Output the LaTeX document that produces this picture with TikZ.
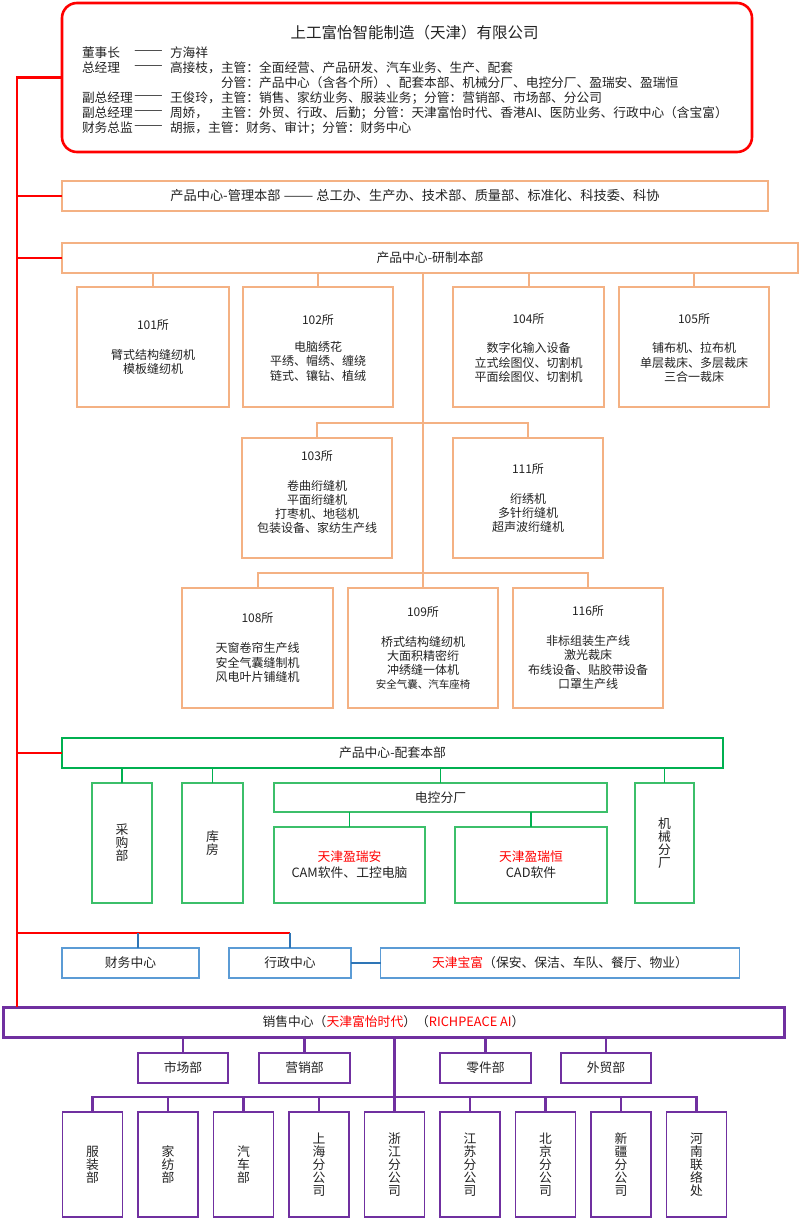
\documentclass[tikz,border=0pt]{standalone}
\usepackage{graphicx}
\usepackage{fontspec}
\setmainfont{Noto Sans CJK SC}
\usetikzlibrary{calc}
\definecolor{cRed}{HTML}{FF0000}
\definecolor{cText}{HTML}{222222}
\definecolor{cOrange}{HTML}{F4B183}
\definecolor{cGreen}{HTML}{00B050}
\definecolor{cGreenL}{HTML}{3CBF6A}
\definecolor{cBlue}{HTML}{5B9BD5}
\definecolor{cBlueD}{HTML}{2E75B6}
\definecolor{cPurple}{HTML}{7030A0}
\newcommand{\longdash}{\scalebox{1.35}[1]{——}}
\begin{document}
\begin{tikzpicture}[x=1pt,y=-1pt,
  every node/.style={inner sep=0pt, outer sep=0pt, text=cText},
  txt/.style={font=\fontsize{12}{14.2}\selectfont, align=center},
  btxt/.style={font=\fontsize{12.8}{14.5}\selectfont, align=center},
  small/.style={font=\fontsize{10.5}{12}\selectfont, align=center},
  lbl/.style={font=\fontsize{12.7}{14}\selectfont, anchor=west},
  vtxt/.style={font=\fontsize{12.8}{13}\selectfont, align=center},
  ttl/.style={font=\fontsize{15.5}{18}\selectfont},
  topbox/.style={draw=cRed, line width=2.6pt, rounded corners=15pt},
  redline/.style={draw=cRed, line width=2.6pt},
  obig/.style={draw=cOrange, line width=2.4pt, btxt},
  osmall/.style={draw=cOrange, line width=1.5pt},
  oline/.style={draw=cOrange, line width=2pt},
  gbig/.style={draw=cGreen, line width=2.4pt, btxt},
  gsmall/.style={draw=cGreenL, line width=1.6pt, btxt},
  gline/.style={draw=cGreen, line width=1.8pt},
  bbox/.style={draw=cBlue, line width=1.8pt, btxt},
  bline/.style={draw=cBlueD, line width=1.6pt},
  pbig/.style={draw=cPurple, line width=3pt, btxt},
  psmall/.style={draw=cPurple, line width=1.8pt, btxt},
  pv/.style={draw=cPurple, line width=1.8pt, vtxt, minimum width=60pt, minimum height=105pt},
  pline/.style={draw=cPurple, line width=2.2pt},
]
\useasboundingbox (0,0) rectangle (800,1220);

% ---------- top box ----------
\node[topbox, minimum width=690pt, minimum height=149pt] (top) at (407,77.5) {};
\node[ttl] (title) at (414.5,33) {上工富怡智能制造（天津）有限公司};
\node[lbl] (l1a) at (82,53) {董事长};
\node[lbl] (l1b) at (134,53) {\longdash};
\node[lbl] (l1c) at (170,53) {方海祥};
\node[lbl] (l2a) at (82,68) {总经理};
\node[lbl] (l2b) at (134,68) {\longdash};
\node[lbl] (l2c) at (170,68) {高接枝，};
\node[lbl] (l2d) at (221,68) {主管：全面经营、产品研发、汽车业务、生产、配套};
\node[lbl] (l3d) at (221,83) {分管：产品中心（含各个所）、配套本部、机械分厂、电控分厂、盈瑞安、盈瑞恒};
\node[lbl] (l4a) at (82,98) {副总经理};
\node[lbl] (l4b) at (134,98) {\longdash};
\node[lbl] (l4c) at (170,98) {王俊玲，};
\node[lbl] (l4d) at (221,98) {主管：销售、家纺业务、服装业务；分管：营销部、市场部、分公司};
\node[lbl] (l5a) at (82,113) {副总经理};
\node[lbl] (l5b) at (134,113) {\longdash};
\node[lbl] (l5c) at (170,113) {周娇，};
\node[lbl] (l5d) at (221,113) {主管：外贸、行政、后勤；分管：天津富怡时代、香港AI、医防业务、行政中心（含宝富）};
\node[lbl] (l6a) at (82,128) {财务总监};
\node[lbl] (l6b) at (134,128) {\longdash};
\node[lbl] (l6c) at (170,128) {胡振，主管：财务、审计；分管：财务中心};

% ---------- management / research ----------
\node[obig, font=\fontsize{13.2}{15}\selectfont, minimum width=706pt, minimum height=30pt] (mgmt) at (415,196) {产品中心-管理本部 \longdash{} 总工办、生产办、技术部、质量部、标准化、科技委、科协};
\node[obig, minimum width=736pt, minimum height=30pt] (research) at (430,258) {产品中心-研制本部};

\node[osmall, minimum width=152pt, minimum height=120pt] (r101) at (153,347) {};
\node[osmall, minimum width=150pt, minimum height=120pt] (r102) at (318,347) {};
\node[osmall, minimum width=151pt, minimum height=120pt] (r104) at (528.5,347) {};
\node[osmall, minimum width=150pt, minimum height=120pt] (r105) at (694,347) {};
\node[osmall, minimum width=150pt, minimum height=120pt] (r103) at (317,498) {};
\node[osmall, minimum width=150pt, minimum height=120pt] (r111) at (528,498) {};
\node[osmall, minimum width=151pt, minimum height=120pt] (r108) at (257.5,648) {};
\node[osmall, minimum width=150pt, minimum height=120pt] (r109) at (423,648) {};
\node[osmall, minimum width=150pt, minimum height=120pt] (r116) at (588,648) {};

\node[txt] (t101) at (153,325) {101所};
\node[txt] (d101) at (153,362) {臂式结构缝纫机\\模板缝纫机};
\node[txt] (t102) at (318,320) {102所};
\node[txt] (d102) at (318,361.5) {电脑绣花\\平绣、帽绣、缠绕\\链式、镶钻、植绒};
\node[txt] (t104) at (528.5,319) {104所};
\node[txt] (d104) at (528.5,362.5) {数字化输入设备\\立式绘图仪、切割机\\平面绘图仪、切割机};
\node[txt] (t105) at (694,319) {105所};
\node[txt] (d105) at (694,362.5) {铺布机、拉布机\\单层裁床、多层裁床\\三合一裁床};
\node[txt] (t103) at (317,456) {103所};
\node[txt] (d103) at (317,507) {卷曲绗缝机\\平面绗缝机\\打枣机、地毯机\\包装设备、家纺生产线};
\node[txt] (t111) at (528,469) {111所};
\node[txt] (d111) at (528,513) {绗绣机\\多针绗缝机\\超声波绗缝机};
\node[txt] (t108) at (257.5,618) {108所};
\node[txt] (d108) at (257.5,662.5) {天窗卷帘生产线\\安全气囊缝制机\\风电叶片铺缝机};
\node[txt] (t109) at (423,612) {109所};
\node[txt] (d109) at (423,656) {桥式结构缝纫机\\大面积精密绗\\冲绣缝一体机};
\node[small] (e109) at (423,684) {安全气囊、汽车座椅};
\node[txt] (t116) at (588,611) {116所};
\node[txt] (d116) at (588,662.5) {非标组装生产线\\激光裁床\\布线设备、贴胶带设备\\口罩生产线};

% ---------- peitao ----------
\node[gbig, minimum width=661pt, minimum height=30pt] (peitao) at (392.5,753) {产品中心-配套本部};
\node[gsmall, vtxt, minimum width=60pt, minimum height=120pt] (cg) at (122,843) {采\\购\\部};
\node[gsmall, vtxt, minimum width=61pt, minimum height=120pt] (kf) at (212.5,843) {库\\房};
\node[gsmall, minimum width=333pt, minimum height=29pt] (dk) at (440.5,797.5) {电控分厂};
\node[gsmall, minimum width=151pt, minimum height=76pt] (yra) at (349.5,865) {};
\node[gsmall, minimum width=152pt, minimum height=76pt] (yrh) at (531,865) {};
\node[gsmall, vtxt, minimum width=59pt, minimum height=120pt] (jx) at (664.5,843) {机\\械\\分\\厂};
\node[btxt, text=cRed] (yra1) at (349.5,857) {天津盈瑞安};
\node[btxt] (yra2) at (349.5,873) {CAM软件、工控电脑};
\node[btxt, text=cRed] (yrh1) at (531,857) {天津盈瑞恒};
\node[btxt] (yrh2) at (531,873) {CAD软件};

% ---------- finance / admin ----------
\node[bbox, minimum width=137pt, minimum height=30pt] (cw) at (130.5,963) {财务中心};
\node[bbox, minimum width=122pt, minimum height=30pt] (xz) at (290,963) {行政中心};
\node[bbox, minimum width=359pt, minimum height=30pt] (bf) at (560,963) {\textcolor{cRed}{天津宝富}（保安、保洁、车队、餐厅、物业）};

% ---------- sales ----------
\node[pbig, minimum width=781pt, minimum height=30pt] (sales) at (393.5,1022) {销售中心（\textcolor{cRed}{天津富怡时代}）（\textcolor{cRed}{RICHPEACE AI}）};
\node[psmall, minimum width=90pt, minimum height=30pt] (sc) at (183,1068) {市场部};
\node[psmall, minimum width=91pt, minimum height=30pt] (yx) at (304.5,1068) {营销部};
\node[psmall, minimum width=91pt, minimum height=30pt] (lj) at (485.5,1068) {零件部};
\node[psmall, minimum width=90pt, minimum height=30pt] (wm) at (606,1068) {外贸部};
\node[pv] (s1) at (92.5,1164.5) {服\\装\\部};
\node[pv] (s2) at (168,1164.5) {家\\纺\\部};
\node[pv] (s3) at (243.5,1164.5) {汽\\车\\部};
\node[pv] (s4) at (319,1164.5) {上\\海\\分\\公\\司};
\node[pv] (s5) at (394.5,1164.5) {浙\\江\\分\\公\\司};
\node[pv] (s6) at (470,1164.5) {江\\苏\\分\\公\\司};
\node[pv] (s7) at (545.5,1164.5) {北\\京\\分\\公\\司};
\node[pv] (s8) at (621,1164.5) {新\\疆\\分\\公\\司};
\node[pv] (s9) at (696.5,1164.5) {河\\南\\联\\络\\处};

% ---------- red trunk ----------
\coordinate (rt) at (17,77.5);
\draw[redline] (top.west) -- (rt) -- (rt |- sales.north);
\draw[redline] (mgmt.west) -- (mgmt.west -| rt);
\draw[redline] (research.west) -- (research.west -| rt);
\draw[redline] (peitao.west) -- (peitao.west -| rt);
\coordinate (fj) at (290,933);
\coordinate (fj1) at (138,933);
\draw[redline] (rt |- fj) -- (fj);
\draw[bline] (fj1) -- (fj1 |- cw.north);
\draw[bline] (fj) -- (xz.north);
\draw[bline, line width=2.6pt] (xz.east) -- (bf.west);

% ---------- orange connectors ----------
\draw[oline] (research.south -| r101.north) -- (r101.north);
\draw[oline] (research.south -| r102.north) -- (r102.north);
\draw[oline] (research.south -| r104.north) -- (r104.north);
\draw[oline] (research.south -| r105.north) -- (r105.north);
\draw[oline] (research.south -| r109.north) -- (r109.north);
\coordinate (o2) at (0,423);
\coordinate (o3) at (0,573);
\draw[oline] (r103.north) -- (r103.north |- o2) -- (r111.north |- o2) -- (r111.north);
\draw[oline] (r108.north) -- (r108.north |- o3) -- (r116.north |- o3) -- (r116.north);

% ---------- green connectors ----------
\draw[gline] (peitao.south -| cg.north) -- (cg.north);
\draw[gline] (peitao.south -| kf.north) -- (kf.north);
\draw[gline] (peitao.south -| dk.north) -- (dk.north);
\draw[gline] (peitao.south -| jx.north) -- (jx.north);
\draw[gline] (dk.south -| yra.north) -- (yra.north);
\draw[gline] (dk.south -| yrh.north) -- (yrh.north);

% ---------- purple connectors ----------
\draw[pline] (sales.south -| sc.north) -- (sc.north);
\draw[pline] (sales.south -| yx.north) -- (yx.north);
\draw[pline] (sales.south -| lj.north) -- (lj.north);
\draw[pline] (sales.south -| wm.north) -- (wm.north);
\draw[pline] (sales.south -| s5.north) -- (s5.north);
\coordinate (p2) at (0,1097);
\draw[pline] (s1.north) -- (s1.north |- p2) -- (s9.north |- p2) -- (s9.north);
\foreach \n in {s2,s3,s4,s6,s7,s8} {\draw[pline] (\n.north |- p2) -- (\n.north);}
\end{tikzpicture}
\end{document}
